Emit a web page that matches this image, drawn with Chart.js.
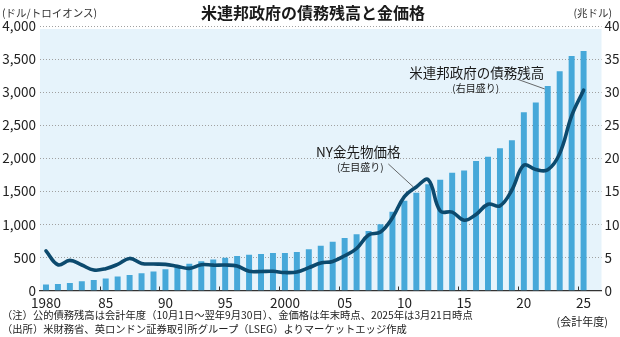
<!DOCTYPE html>
<html lang="ja">
<head>
<meta charset="utf-8">
<script src="https://cdn.jsdelivr.net/npm/chart.js@4/dist/chart.umd.min.js"></script>
<style>
html,body{margin:0;padding:0;background:#fff;}
#wrap{position:relative;width:620px;height:337px;overflow:hidden;font-family:"Noto Sans CJK JP","Noto Sans",sans-serif;color:#222;}
#c{position:absolute;left:0;top:0;}
.t{position:absolute;white-space:nowrap;line-height:1;}
#title{left:313px;top:4px;transform:translateX(-50%);font-size:16px;font-weight:bold;color:#1a1a1a;}
#unitL{left:2px;top:8px;font-size:10.5px;color:#333;}
#unitR{right:8px;top:8px;font-size:10.5px;color:#333;}
#note1{left:2px;top:310px;font-size:10.3px;color:#222;}
#note2{left:2px;top:324px;font-size:10.3px;color:#222;}
#fy{right:12px;top:316px;font-size:11px;color:#222;}
</style>
</head>
<body>
<div id="wrap">
<canvas id="c" width="620" height="337"></canvas>
<div class="t" id="title">米連邦政府の債務残高と金価格</div>
<div class="t" id="unitL">(ドル/トロイオンス)</div>
<div class="t" id="unitR">(兆ドル)</div>
<div class="t" id="note1">（注）公的債務残高は会計年度（10月1日～翌年9月30日）、金価格は年末時点、2025年は3月21日時点</div>
<div class="t" id="note2">（出所）米財務省、英ロンドン証券取引所グループ（LSEG）よりマーケットエッジ作成</div>
<div class="t" id="fy">(会計年度)</div>
</div>
<script>
// Years (fiscal years for debt, calendar year-end for gold)
const years = [1980,1981,1982,1983,1984,1985,1986,1987,1988,1989,
               1990,1991,1992,1993,1994,1995,1996,1997,1998,1999,
               2000,2001,2002,2003,2004,2005,2006,2007,2008,2009,
               2010,2011,2012,2013,2014,2015,2016,2017,2018,2019,
               2020,2021,2022,2023,2024,2025];

// US federal debt outstanding, trillion dollars (right axis)
const debt = [0.91,1.00,1.14,1.38,1.57,1.82,2.13,2.35,2.60,2.86,
              3.23,3.67,4.06,4.41,4.69,4.97,5.22,5.41,5.53,5.66,
              5.67,5.81,6.23,6.78,7.38,7.93,8.51,9.01,10.02,11.91,
              13.56,14.79,16.07,16.74,17.82,18.15,19.57,20.24,21.52,22.72,
              26.95,28.43,30.93,33.17,35.46,36.22];

// NY gold futures, dollars per troy ounce (left axis)
const gold = [600,390,455,385,310,330,395,485,410,400,
              395,365,335,390,383,385,370,290,288,290,
              272,280,345,415,440,525,635,840,885,1100,
              1420,1566,1675,1202,1185,1062,1150,1305,1280,1520,
              1895,1830,1825,2070,2640,3030];

// Axis tick values and labels
const xTickYears  = [1980,1985,1990,1995,2000,2005,2010,2015,2020,2025];
const xTickLabels = ['1980','85','90','95','2000','05','10','15','20','25'];
const leftTicks   = [0,500,1000,1500,2000,2500,3000,3500,4000];
const rightTicks  = [0,5,10,15,20,25,30,35,40];

const BAR_COLOR  = '#46a8d9';
const LINE_COLOR = '#0c4a6e';
const PANEL      = '#e6f3fb';
const TICK_FONT  = {family:'"Noto Sans CJK JP","Noto Sans",sans-serif', size:13.5};

// light panel behind the plot area
const panelBg = {
  id:'panelBg',
  beforeDraw(chart){
    const {ctx, chartArea:a} = chart;
    ctx.save();
    ctx.fillStyle = PANEL;
    ctx.fillRect(a.left, a.top + 3, a.right - a.left, a.bottom - a.top - 3);
    ctx.restore();
  }
};

// short upward tick marks at the start of every fifth fiscal year
const yearMarks = {
  id:'yearMarks',
  afterDatasetsDraw(chart){
    const {ctx, chartArea:a, scales:{x}} = chart;
    ctx.save();
    ctx.strokeStyle = '#333';
    ctx.lineWidth = 1;
    xTickYears.slice(1).forEach(y => {
      const px = Math.round(x.getPixelForValue(y - 0.5)) + 0.5;
      ctx.beginPath();
      ctx.moveTo(px, a.bottom);
      ctx.lineTo(px, a.bottom - 4);
      ctx.stroke();
    });
    ctx.restore();
  }
};

// series callouts with leader lines
const callouts = {
  id:'callouts',
  afterDatasetsDraw(chart){
    const {ctx, scales:{x, yL, yR}} = chart;
    const iD = years.indexOf(2022), iG = years.indexOf(2011);
    const d = {x:x.getPixelForValue(years[iD]), y:yR.getPixelForValue(debt[iD])};
    const g = {x:x.getPixelForValue(years[iG]), y:yL.getPixelForValue(gold[iG])};
    ctx.save();
    ctx.strokeStyle = '#444';
    ctx.lineWidth = 0.8;
    ctx.beginPath();
    ctx.moveTo(d.x - 31, d.y - 7); ctx.lineTo(d.x - 3, d.y + 3);
    ctx.moveTo(g.x - 28, g.y - 23); ctx.lineTo(g.x - 3, g.y);
    ctx.stroke();
    ctx.fillStyle = '#1a1a1a';
    ctx.textAlign = 'center';
    ctx.textBaseline = 'middle';
    ctx.font = '13.5px "Noto Sans CJK JP", sans-serif';
    ctx.fillText('米連邦政府の債務残高', d.x - 71, d.y - 13);
    ctx.fillText('NY金先物価格', g.x - 58, g.y - 35);
    ctx.font = '10px "Noto Sans CJK JP", sans-serif';
    ctx.fillText('(右目盛り)', d.x - 72, d.y + 2);
    ctx.fillText('(左目盛り)', g.x - 56, g.y - 20);
    ctx.restore();
  }
};

new Chart(document.getElementById('c'), {
  type:'bar',
  data:{
    datasets:[
      {
        type:'line', label:'NY金先物価格',
        data: years.map((y,i)=>({x:y, y:gold[i]})),
        yAxisID:'yL', borderColor:LINE_COLOR, borderWidth:3.6,
        pointRadius:0, tension:0.4, borderCapStyle:'round', borderJoinStyle:'round',
        order:0
      },
      {
        type:'bar', label:'米連邦政府の債務残高',
        data: years.map((y,i)=>({x:y, y:debt[i]})),
        yAxisID:'yR', backgroundColor:BAR_COLOR, borderWidth:0,
        categoryPercentage:1, barPercentage:0.5,
        order:1
      }
    ]
  },
  options:{
    responsive:false,
    animation:false,
    devicePixelRatio:1,
    layout:{padding:{top:26, left:0, right:0, bottom:0}},
    plugins:{legend:{display:false}, tooltip:{enabled:false}},
    scales:{
      x:{
        type:'linear', min:1979.5, max:2026.5, offset:false,
        afterBuildTicks(s){ s.ticks = xTickYears.map(v=>({value:v})); },
        afterFit(s){ s.height = 46.5; },
        grid:{display:false, drawTicks:false, offset:false},
        border:{display:true, color:'#333', width:1.2},
        ticks:{
          autoSkip:false, maxRotation:0, padding:4, color:'#222', font:TICK_FONT,
          callback:(v,i)=>xTickLabels[i]
        }
      },
      yL:{
        position:'left', min:0, max:4000,
        afterBuildTicks(s){ s.ticks = leftTicks.map(v=>({value:v})); },
        afterFit(s){ s.width = 40; },
        grid:{color:(c)=>c.tick && c.tick.value===0 ? 'rgba(0,0,0,0)' : '#a0a0a0',
              lineWidth:1, drawTicks:false},
        border:{display:false, dash:[1,2]},
        ticks:{padding:4, color:'#222', font:TICK_FONT,
               callback:(v)=>v.toLocaleString('en-US')}
      },
      yR:{
        position:'right', min:0, max:40,
        afterBuildTicks(s){ s.ticks = rightTicks.map(v=>({value:v})); },
        afterFit(s){ s.width = 18.5; },
        grid:{display:false, drawTicks:false},
        border:{display:false},
        ticks:{padding:3, color:'#222', font:TICK_FONT}
      }
    }
  },
  plugins:[panelBg, yearMarks, callouts]
});
</script>
</body>
</html>
